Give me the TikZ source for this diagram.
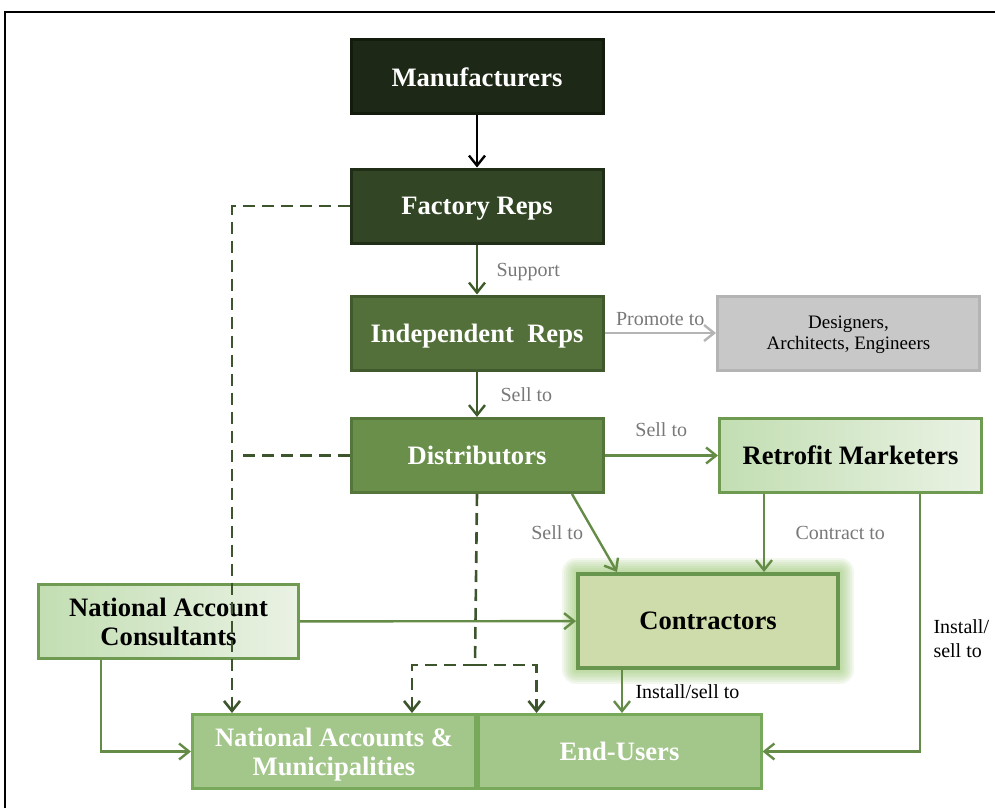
\documentclass[tikz,border=0pt]{standalone}
\usepackage{fontspec}
\setmainfont{Liberation Serif}
\usetikzlibrary{arrows.meta,backgrounds}

\definecolor{manuc}{RGB}{30,40,22}
\definecolor{manub}{RGB}{19,27,13}
\definecolor{frc}{RGB}{50,70,37}
\definecolor{frb}{RGB}{32,45,23}
\definecolor{irc}{RGB}{84,112,58}
\definecolor{irb}{RGB}{65,90,45}
\definecolor{distc}{RGB}{106,143,75}
\definecolor{distb}{RGB}{84,118,58}
\definecolor{lightl}{RGB}{194,222,178}
\definecolor{lightr}{RGB}{234,242,228}
\definecolor{lightb}{RGB}{110,154,82}
\definecolor{conc}{RGB}{205,220,170}
\definecolor{conb}{RGB}{104,150,78}
\definecolor{congl}{RGB}{150,195,110}
\definecolor{endc}{RGB}{163,198,138}
\definecolor{endb}{RGB}{120,168,90}
\definecolor{desc}{RGB}{200,200,200}
\definecolor{desb}{RGB}{180,180,180}
\definecolor{arrowc}{RGB}{100,140,70}
\definecolor{darkarrow}{RGB}{62,92,42}
\definecolor{dashc}{RGB}{60,85,45}
\definecolor{labelgray}{RGB}{120,120,120}

\begin{document}
\begin{tikzpicture}[x=0.5pt, y=-0.5pt,
	every node/.style={draw, rectangle, line width=1.5pt, minimum width=126pt, minimum height=37pt, align=center, text depth=0pt, text=white, font=\fontsize{13.3}{14.5}\selectfont\bfseries},
	lbl/.style={draw=none, minimum width=0pt, minimum height=0pt, inner sep=1pt, text=labelgray, font=\fontsize{10}{12}\selectfont},
	flow/.style={line width=1.2pt, color=arrowc, -{Straight Barb[length=5pt, width=8pt]}},
	dashflow/.style={flow, color=dashc, line width=1.3pt, dash pattern=on 6pt off 3.5pt}]

	\useasboundingbox (0,0) rectangle (995,808);
	\draw[line width=0.75pt] (5,808) -- (5,12) -- (995,12);

	\node[fill=manuc, draw=manub]				(man)	at (477,77)	{Manufacturers};
	\node[below of=man, node distance=64.5pt, fill=frc, draw=frb]		(fr)	{Factory Reps};
	\node[below of=fr, node distance=63.5pt, fill=irc, draw=irb]		(ir)	{Independent~~Reps};
	\node[below of=ir, node distance=61.25pt, fill=distc, draw=distb]	(dist)	{Distributors};
	\node[right of=ir, node distance=185.75pt, minimum width=131pt, fill=desc, draw=desb, text=black, font=\fontsize{9.5}{10.5}\selectfont]	(des)	{Designers,\\Architects, Engineers};
	\node[right of=dist, node distance=186.75pt, minimum width=131pt, left color=lightl, right color=lightr, draw=lightb, text=black]	(rm)	{Retrofit Marketers};
	\node[minimum width=130pt, minimum height=47pt, fill=conc, draw=conb, line width=2pt, text=black]	(con)	at (708,621)	{Contractors};
	\node[minimum width=130pt, left color=lightl, right color=lightr, draw=lightb, text=black]	(nac)	at (168.5,621.5)	{National Account\\Consultants};
	\node[minimum width=141.5pt, fill=endc, draw=endb]	(natacc)	at (334,751.5)	{National Accounts \&\\Municipalities};
	\node[minimum width=141.5pt, fill=endc, draw=endb]	(eu)	at (619.5,751.5)	{End-Users};

	% glow round the contractors
	\begin{scope}[on background layer]
		\foreach \g in {1,...,7}
			\fill[congl, opacity=0.12, rounded corners=\g pt] ([shift={(-\g pt,\g pt)}]con.north west) rectangle ([shift={(\g pt,-\g pt)}]con.south east);
	\end{scope}

	\coordinate (lane)	at (232,0);
	\coordinate (split)	at (475,665);
	\coordinate (conout)	at (622,0);

	\path[flow]
	(man)	edge[draw=black]		(fr)
	(fr)	edge[draw=darkarrow]	node[lbl, right=8pt] {Support}	(ir)
	(ir)	edge[draw=darkarrow]	node[lbl, right=10pt] {Sell to}	(dist)
			edge[draw=desb]			node[lbl, above=2pt] {Promote to}	(des)
	(dist)	edge					node[lbl, above=8pt] {Sell to}	(rm)
	([xshift=47.5pt]dist.south)	edge	node[lbl, left=4pt] {Sell to}	([xshift=20.5pt]con.north west)
	([xshift=-43.25pt]rm.south)	edge	node[lbl, right=14pt] {Contract to}	([xshift=-43.25pt]rm.south |- con.north)
	(nac)	edge					(con);

	\draw[flow] (conout |- con.south) -- node[lbl, right=5pt, text=black] {Install/sell to} (conout |- eu.north);
	\draw[flow] ([xshift=34.75pt]rm.south) |- node[lbl, right=5pt, pos=0.28, align=left, text=black] {Install/\\sell to} (eu.east);
	\draw[flow] ([xshift=-33.75pt]nac.south) |- (natacc.west);

	\draw[dashflow] (fr.west) -| (lane |- natacc.north);
	\draw[dashflow, -] (dist.west) -- ([xshift=5pt]dist.west -| lane);
	\draw[dashflow, -] (dist.south) -- (split);
	\draw[dashflow] (split) -| ([xshift=-32.5pt]natacc.north east);
	\draw[dashflow] (split) -| ([xshift=30pt]eu.north west);
\end{tikzpicture}
\end{document}
